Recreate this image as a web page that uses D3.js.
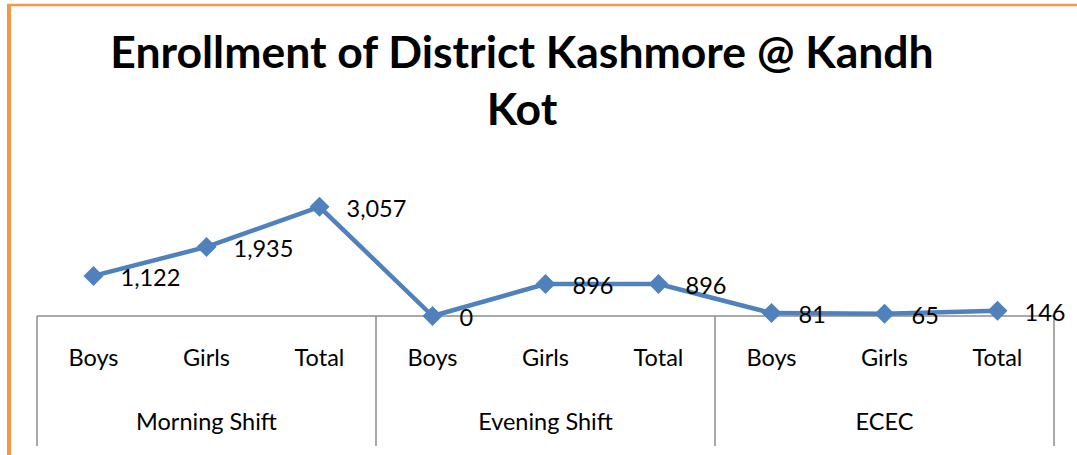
<!DOCTYPE html>
<html>
<head>
<meta charset="utf-8">
<script src="https://cdn.jsdelivr.net/npm/d3@7"></script>
<style>
body { margin: 0; background: #fff; }
</style>
</head>
<body>
<div id="chart"></div>
<script>
var titleLines = ["Enrollment of District Kashmore @ Kandh", "Kot"];
var groups = ["Morning Shift", "Evening Shift", "ECEC"];
var subCategories = ["Boys", "Girls", "Total"];
var enrollment = [1122, 1935, 3057, 0, 896, 896, 81, 65, 146];

var width = 1077, height = 455;
var font = "Lato, 'Open Sans', sans-serif";

var svg = d3.select("#chart")
    .append("svg")
    .attr("width", width)
    .attr("height", height);

// orange frame (only top and left edges are visible)
svg.append("line")
    .attr("x1", 7).attr("x2", width)
    .attr("y1", 5).attr("y2", 5)
    .attr("stroke", "#F79646").attr("stroke-width", 2.5);
svg.append("line")
    .attr("x1", 9).attr("x2", 9)
    .attr("y1", 4).attr("y2", height)
    .attr("stroke", "#F79646").attr("stroke-width", 4);

// title
svg.append("text")
    .attr("x", 522)
    .attr("y", 68)
    .attr("text-anchor", "middle")
    .style("font-family", font)
    .style("font-weight", "bold")
    .style("font-size", "44.5px")
    .selectAll("tspan")
    .data(titleLines)
    .enter()
    .append("tspan")
    .attr("x", 522)
    .attr("dy", function (d, i) { return i == 0 ? 0 : 57; })
    .text(function (d) { return d; });

// categories
var points = [];
groups.forEach(function (g, gi) {
    subCategories.forEach(function (s, si) {
        var i = gi * subCategories.length + si;
        points.push({ key: g + "|" + s, group: g, sub: s, value: enrollment[i] });
    });
});

var x = d3.scaleBand()
    .domain(points.map(function (d) { return d.key; }))
    .range([37, 1054]);

var y = d3.scaleLinear()
    .domain([0, 3500])
    .range([316, 191]);

var axisY = y(0);
var bottom = 446;

// axis line and group separators
svg.append("line")
    .attr("x1", x.range()[0]).attr("x2", x.range()[1])
    .attr("y1", axisY).attr("y2", axisY)
    .attr("stroke", "#8c8c8c").attr("stroke-width", 1.5);

var separators = groups.map(function (g) {
    return x(g + "|" + subCategories[0]);
});
separators.push(x.range()[1]);

svg.selectAll("sepLines")
    .data(separators)
    .enter()
    .append("line")
    .attr("x1", function (d) { return d; })
    .attr("x2", function (d) { return d; })
    .attr("y1", axisY).attr("y2", bottom)
    .attr("stroke", "#8c8c8c").attr("stroke-width", 1.5);

// sub category labels
svg.selectAll("subLabels")
    .data(points)
    .enter()
    .append("text")
    .attr("x", function (d) { return x(d.key) + x.bandwidth() / 2; })
    .attr("y", 366)
    .attr("text-anchor", "middle")
    .style("font-family", font)
    .style("font-size", "23.5px")
    .text(function (d) { return d.sub; });

// group labels
svg.selectAll("groupLabels")
    .data(groups)
    .enter()
    .append("text")
    .attr("x", function (g) {
        return x(g + "|" + subCategories[1]) + x.bandwidth() / 2;
    })
    .attr("y", 430)
    .attr("text-anchor", "middle")
    .style("font-family", font)
    .style("font-size", "23.5px")
    .text(function (d) { return d; });

// line
var line = d3.line()
    .x(function (d) { return x(d.key) + x.bandwidth() / 2; })
    .y(function (d) { return y(d.value); });

svg.append("path")
    .datum(points)
    .attr("d", line)
    .attr("fill", "none")
    .attr("stroke", "#4F81BD")
    .attr("stroke-width", 4.5)
    .attr("stroke-linejoin", "round");

var marker = d3.symbol().type(d3.symbolSquare).size(200);

svg.selectAll("markers")
    .data(points)
    .enter()
    .append("path")
    .attr("d", marker)
    .attr("fill", "#4F81BD")
    .attr("transform", function (d) {
        return "translate(" + (x(d.key) + x.bandwidth() / 2) + "," + y(d.value) + ") rotate(45)";
    });

// data labels
var fmt = d3.format(",");
svg.selectAll("valueLabels")
    .data(points)
    .enter()
    .append("text")
    .attr("x", function (d) { return x(d.key) + x.bandwidth() / 2 + 27; })
    .attr("y", function (d) { return y(d.value) + 10; })
    .style("font-family", font)
    .style("font-size", "23.5px")
    .text(function (d) { return fmt(d.value); });
</script>
</body>
</html>
